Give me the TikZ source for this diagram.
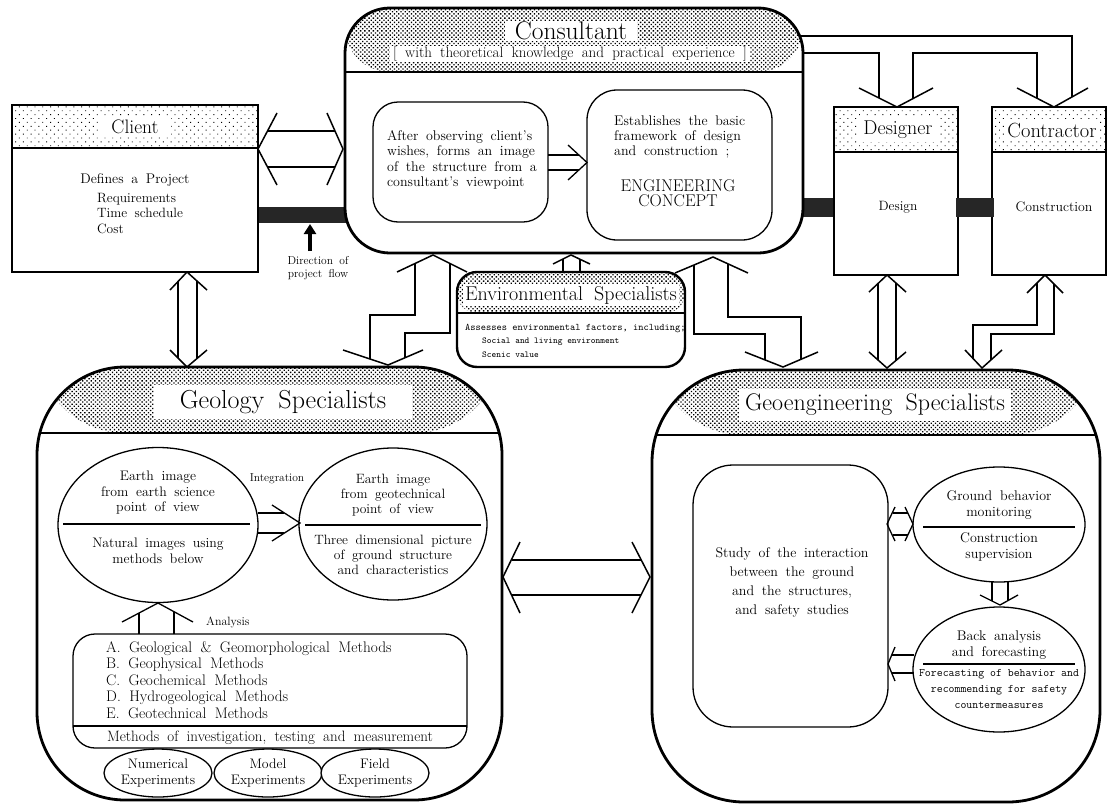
\documentclass[tikz,border=0pt]{standalone}
\usetikzlibrary{patterns.meta,shapes.geometric,calc,arrows.meta}
\pgfdeclarelayer{bg}
\pgfsetlayers{bg,main}
\newcommand\fsz[2]{\fontsize{#1}{#2}\selectfont\spaceskip=0.55em plus 0.1em minus 0.05em\relax}
\newcommand\tsz[2]{\fontsize{#1}{#2}\selectfont}
\tikzset{
  conn/.style={line width=1.5pt, line join=miter},
  iconn/.style={line width=1.3pt, line join=miter},
  dense/.style={pattern={Dots[distance=3pt,angle=45,radius=0.95pt]}},
  sparse/.style={pattern={Dots[distance=5.5pt,angle=45,radius=0.65pt]}},
  box/.style={draw, fill=white, inner sep=0pt, outer sep=0pt},
  hdrbox/.style 2 args={box, path picture={
      \fill[#2] (path picture bounding box.north west) rectangle ([yshift=-#1pt]path picture bounding box.north east);
      \draw[line width=1.6pt] ([yshift=-#1pt]path picture bounding box.north west) -- ([yshift=-#1pt]path picture bounding box.north east);}},
  labelw/.style={fill=white, inner xsep=6pt, inner ysep=3pt},
  ell/.style={ellipse, draw, line width=1.3pt, fill=white, inner sep=0pt},
  txt/.style={align=center, inner sep=0pt},
  divider/.style={line width=1.2pt},
  flowbar/.style={fill=black!85},
}
\begin{document}
\begin{tikzpicture}[x=1pt,y=-1pt]
\useasboundingbox (0,0) rectangle (1107,803);

% ---------------- main boxes ----------------
\node[hdrbox={43}{sparse}, line width=1.6pt, minimum width=246pt, minimum height=167pt] (client) at (135,188.5) {};
\node[labelw, font=\fsz{19.5}{21}, inner xsep=12pt] (clientlab) at (135,127) {Client};
\node[txt, font=\fsz{14}{16}] (clientdef) at (135,180) {Defines a Project};
\node[anchor=north west, align=left, inner sep=0pt, font=\fsz{13.5}{15.5}] (clientlist) at (97,193) {Requirements\\Time schedule\\Cost};

\node[hdrbox={64}{dense}, line width=2.8pt, rounded corners=45pt, minimum width=458pt, minimum height=245pt] (cons) at (574,130.5) {};
\node[labelw, font=\fsz{25.5}{27}, inner ysep=1pt, inner xsep=10pt] (conslab) at (571,31) {Consultant};
\node[labelw, font=\fsz{15}{16}, inner ysep=1pt, inner xsep=3pt] (conssub) at (570,54) {[ with theoretical knowledge and practical experience ]};

\node[box, line width=1.3pt, rounded corners=25pt, minimum width=175pt, minimum height=120pt] (obs) at (460.5,162) {};
\node[align=left, inner sep=0pt, font=\fsz{14}{15.3}] (obstxt) at (462,160) {After observing client's\\wishes, forms an image\\of the structure from a\\consultant's viewpoint};
\node[box, line width=1.3pt, rounded corners=30pt, minimum width=185pt, minimum height=150pt] (eng) at (679.5,165) {};
\node[anchor=north west, align=left, inner sep=0pt, font=\fsz{14}{15}] (engtxt) at (614,116) {Establishes the basic\\framework of design\\and construction ;};
\node[txt, font=\fsz{17}{15.5}] (engcon) at (678,193) {ENGINEERING\\CONCEPT};

\node[hdrbox={45}{sparse}, line width=1.6pt, minimum width=124pt, minimum height=168pt] (des) at (896,191) {};
\node[labelw, font=\fsz{20}{22}, inner xsep=5pt] (deslab) at (898,130) {Designer};
\node[txt, font=\fsz{13.5}{14}] (destxt) at (898,207) {Design};

\node[hdrbox={45}{sparse}, line width=1.6pt, minimum width=114pt, minimum height=168pt] (con) at (1049,191) {};
\node[labelw, font=\fsz{20.5}{22}, inner xsep=2pt] (conlab) at (1052,130) {Contractor};
\node[txt, font=\fsz{13.8}{14}] (contxt) at (1054,207) {Construction};

\fill[flowbar] (956,198) rectangle (994,217);

\node[hdrbox={41}{dense}, line width=2.4pt, rounded corners=20pt, minimum width=228pt, minimum height=95pt] (env) at (571,319.5) {};
\node[fill=white, inner xsep=2pt, inner ysep=2pt, font=\fsz{20}{22}] (envlab) at (571,295) {Environmental Specialists};
\node[anchor=base west, inner sep=0pt, font=\ttfamily\tsz{10}{12}] (envt1) at (465,330) {Assesses environmental factors, including;};
\node[anchor=base west, inner sep=0pt, font=\ttfamily\tsz{9}{11}] (envt2) at (482,343.5) {Social and living environment};
\node[anchor=base west, inner sep=0pt, font=\ttfamily\tsz{9}{11}] (envt3) at (482,357.5) {Scenic value};

% Geology
\node[hdrbox={66}{dense}, line width=2.8pt, rounded corners=88pt, minimum width=465pt, minimum height=433pt] (geo) at (269.5,583.5) {};
\node[labelw, font=\fsz{26}{28}, inner xsep=26pt, inner ysep=5pt] (geolab) at (283,402) {Geology Specialists};

\node[ell, minimum width=200pt, minimum height=155pt] (e1) at (158,525) {};
\draw[divider] (63,524) -- (250,524);
\node[txt, font=\fsz{13.8}{15.5}] (e1a) at (158,493) {Earth image\\from earth science\\point of view};
\node[txt, font=\fsz{13.8}{16}] (e1b) at (158,551) {Natural images using\\methods below};

\node[ell, minimum width=188pt, minimum height=152pt] (e2) at (393,524) {};
\draw[divider] (305,525) -- (481,525);
\node[txt, font=\fsz{13.5}{15}] (e2a) at (393,495) {Earth image\\from geotechnical\\point of view};
\node[txt, font=\fsz{13.5}{15}] (e2b) at (393,555) {Three dimensional picture\\of ground structure\\and characteristics};

\node[txt, font=\fsz{11.5}{12}] (integ) at (277,479) {Integration};
\draw[iconn] (258,513) -- (284,513) (258,533) -- (284,533);
\draw[iconn] (272,505) -- (300,523) -- (272,541);

\node[box, line width=1.3pt, rounded corners=22pt, minimum width=394pt, minimum height=114pt] (meth) at (270,691) {};
\draw[divider] (73,726) -- (467,726);
\node[anchor=north west, align=left, inner sep=0pt, font=\fsz{15.3}{16.5}] (methlist) at (106,641) {A. Geological \& Geomorphological Methods\\B. Geophysical Methods\\C. Geochemical Methods\\D. Hydrogeological Methods\\E. Geotechnical Methods};
\node[txt, font=\fsz{15}{16}] (methsub) at (270,738) {Methods of investigation, testing and measurement};

\node[txt, font=\fsz{12}{12}, anchor=west] (analab) at (206,622) {Analysis};
\draw[iconn] (139,634) -- (139,613) (174,634) -- (174,612);
\draw[iconn] (122,622) -- (158,603) -- (193,622);

\node[ell, minimum width=108pt, minimum height=48pt] (num) at (158,773) {};
\node[ell, minimum width=108pt, minimum height=48pt] (mod) at (268,773) {};
\node[ell, minimum width=108pt, minimum height=48pt] (fld) at (375,773) {};
\node[txt, font=\fsz{13.8}{16}] at (num) {Numerical\\Experiments};
\node[txt, font=\fsz{13.8}{16}] at (mod) {Model\\Experiments};
\node[txt, font=\fsz{13.8}{16}] at (fld) {Field\\Experiments};

% Geoengineering
\node[hdrbox={65}{dense}, line width=2.8pt, rounded corners=92pt, minimum width=448pt, minimum height=432pt] (geng) at (876,586) {};
\node[labelw, font=\fsz{24}{26}, inner xsep=6pt, inner ysep=5pt] (genglab) at (875,405) {Geoengineering Specialists};

\node[box, line width=1.3pt, rounded corners=40pt, minimum width=195pt, minimum height=262pt] (study) at (790.5,596) {};
\node[txt, font=\fsz{14}{19}] (studytxt) at (792,582) {Study of the interaction\\between the ground\\and the structures,\\and safety studies};

\node[ell, minimum width=172pt, minimum height=115pt] (gbm) at (999,524.5) {};
\draw[divider] (923,527) -- (1075,527);
\node[txt, font=\fsz{14}{16}] (gbma) at (999,505) {Ground behavior\\monitoring};
\node[txt, font=\fsz{14}{16}] (gbmb) at (999,547) {Construction\\supervision};

\node[ell, minimum width=172pt, minimum height=125pt] (back) at (999,669.5) {};
\draw[divider] (923,664) -- (1075,664);
\node[txt, font=\fsz{14}{16}] (backa) at (999,645) {Back analysis\\and forecasting};
\node[txt, font=\ttfamily\tsz{11.5}{16}] (backb) at (999,689) {Forecasting of behavior and\\recommending for safety\\countermeasures};

\draw[iconn] (892.5,513) -- (907.5,513) (892.5,535) -- (907.5,535);
\draw[iconn] (895,507) -- (887,524) -- (895,541);
\draw[iconn] (905,507) -- (913,524) -- (905,541);

\draw[iconn] (992,582) -- (992,601) (1008,582) -- (1008,600.6);
\draw[iconn] (980,595) -- (1000,605) -- (1018,595);

\draw[iconn] (891.5,655) -- (914,655) (891.5,673) -- (914,673);
\draw[iconn] (895,647) -- (888,664) -- (895,681);

% inner consultant arrow
\draw[iconn] (548,155) -- (579,155) (548,170) -- (579,170);
\draw[iconn] (568,145) -- (587,162.5) -- (568,180);

% direction of flow
\node[txt, font=\fsz{11.5}{13}] (dirlab) at (318,268.5) {Direction of\\project flow};
\draw[line width=4pt, -{Triangle[length=10pt,width=12pt]}] (310,251) -- (310,224);

% ---------------- connectors (background) ----------------
\begin{pgfonlayer}{bg}
\fill[flowbar] (258,207) rectangle (350,223);
\fill[flowbar] (795,198) rectangle (836,217);

% client <-> consultant
\draw[conn] (267.5,131) -- (335,131) (267.5,167) -- (335,167);
\draw[conn] (277,113) -- (258,149) -- (277,185);
\draw[conn] (327,113) -- (343,149) -- (327,185);

% consultant -> designer / contractor
\draw[conn] (785,36) -- (1072,36) -- (1072,97);
\draw[conn] (785,53) -- (879,53) -- (879,98);
\draw[conn] (913,98.6) -- (913,53) -- (1037,53) -- (1037,98.3);
\draw[conn] (859,88) -- (897,107) -- (933,88);
\draw[conn] (1017,88) -- (1054,107) -- (1088,88);

% environmental -> consultant
\draw[conn] (563,275) -- (563,259) (580,275) -- (580,259);
\draw[conn] (553,264) -- (571,255) -- (590,264);

% consultant <-> geology
\draw[conn] (415,263.5) -- (415,315) -- (370,315) -- (370,359);
\draw[conn] (450,263.5) -- (450,333) -- (405,333) -- (405,357.7);
\draw[conn] (397,272) -- (433,255) -- (467,272);
\draw[conn] (343,350) -- (388,365) -- (423,350);

% consultant <-> geoengineering
\draw[conn] (694,265) -- (694,334) -- (765,334) -- (765,360);
\draw[conn] (728,264) -- (728,317) -- (801,317) -- (801,359.3);
\draw[conn] (675,273) -- (713,257) -- (748,273);
\draw[conn] (745,352) -- (783,367) -- (818,352);

% designer <-> geoengineering
\draw[conn] (878,283.5) -- (878,360) (896,283) -- (896,360);
\draw[conn] (869,292) -- (887,275) -- (906,292);
\draw[conn] (869,352) -- (887,368) -- (906,352);

% contractor <-> geoengineering
\draw[conn] (1037,283) -- (1037,325) -- (973,325) -- (973,358.5);
\draw[conn] (1054,284) -- (1054,334) -- (991,334) -- (991,360);
\draw[conn] (1027,293) -- (1045,275) -- (1063,293);
\draw[conn] (965,350) -- (982,368) -- (1002,350);

% client <-> geology
\draw[conn] (178,281.5) -- (178,358) (197,281) -- (197,358);
\draw[conn] (170,290) -- (187,272) -- (207,290);
\draw[conn] (170,350) -- (187,367) -- (207,350);

% geology <-> geoengineering
\draw[conn] (511.5,560) -- (641.3,560) (511.5,595) -- (641.3,595);
\draw[conn] (520,542) -- (503,577) -- (520,613);
\draw[conn] (632,542) -- (650,577) -- (632,613);
\end{pgfonlayer}
\end{tikzpicture}
\end{document}
